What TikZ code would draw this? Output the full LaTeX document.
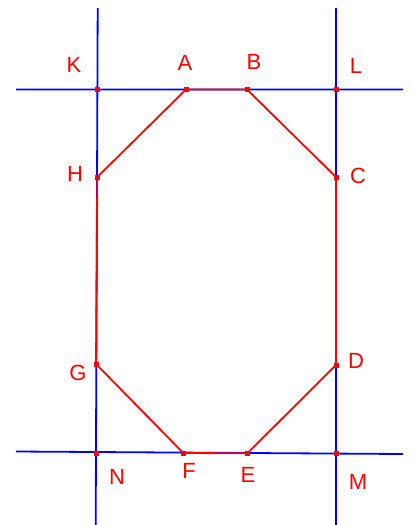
\documentclass[tikz,border=0pt]{standalone}
\usepackage{fontspec}
\setmainfont{Liberation Sans}
\tikzset{ln/.style={blue,line width=1.8pt},oct/.style={red,line width=1.8pt,line join=round},pt/.style={fill=red,minimum size=5pt,inner sep=0pt},lab/.style={red,font=\fontsize{22}{22}\selectfont}}
\begin{document}
\begin{tikzpicture}[x=1pt,y=-1pt]
\useasboundingbox(0,0)rectangle(414,525);
% points
\coordinate(K)at(97.5,89.5);\coordinate(A)at(186,89.5);\coordinate(B)at(247,89.5);\coordinate(L)at(336,89.5);
\coordinate(H)at(97.3,177);\coordinate(C)at(336,177);\coordinate(G)at(96,364);\coordinate(D)at(336,365);
\coordinate(N)at(96,453);\coordinate(F)at(183.3,453);\coordinate(E)at(247.3,453.3);\coordinate(M)at(336,453.7);
% line ends
\coordinate(t1)at(16,89.5);\coordinate(t2)at(403,89.5);\coordinate(b1)at(16,451.5);\coordinate(b2)at(403,454);
\coordinate(l1)at(97.7,8);\coordinate(l2)at(95.7,525);\coordinate(r1)at(336,8);\coordinate(r2)at(336,525);
\draw[ln](t1)--(t2)(b1)--(b2)(l1)--(l2)(r1)--(r2);
\draw[oct](A)--(B)--(C)--(D)--(E)--(F)--(G)--(H)--cycle;
\foreach \p in{K,A,B,L,H,C,G,D,N,F,E,M}\node[pt]at(\p){};
\node[lab](kl)at(74,65){K};\node[lab](al)at(185,63){A};\node[lab](bl)at(254,62){B};\node[lab](ll)at(356,66){L};
\node[lab](hl)at(75,174){H};\node[lab](cl)at(358,176){C};\node[lab](gl)at(78,373){G};\node[lab](dl)at(356,361){D};
\node[lab](nl)at(117,477){N};\node[lab](fl)at(189,471){F};\node[lab](el)at(248,475){E};\node[lab](ml)at(358,482){M};
\end{tikzpicture}
\end{document}
